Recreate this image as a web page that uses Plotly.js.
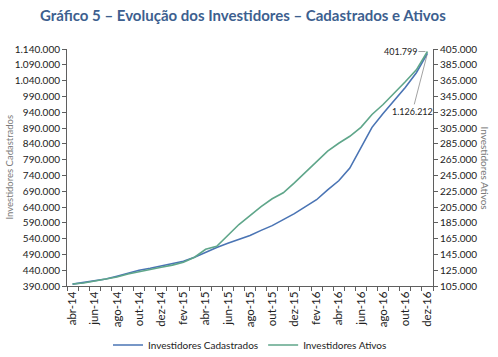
<!DOCTYPE html>
<html>
<head>
<meta charset="utf-8">
<script src="https://cdn.plot.ly/plotly-3.0.1.min.js"></script>
<style>
  html, body { margin: 0; padding: 0; background: #fff; }
  #chart { width: 498px; height: 357px; }
</style>
</head>
<body>
<div id="chart"></div>
<script>
// Months (abr-14 .. dez-16)
const months = ["abr-14","mai-14","jun-14","jul-14","ago-14","set-14","out-14","nov-14","dez-14",
  "jan-15","fev-15","mar-15","abr-15","mai-15","jun-15","jul-15","ago-15","set-15","out-15","nov-15","dez-15",
  "jan-16","fev-16","mar-16","abr-16","mai-16","jun-16","jul-16","ago-16","set-16","out-16","nov-16","dez-16"];

// Investidores Cadastrados (left axis)
const cadastrados = [396000, 401000, 406000, 412000, 421000, 431000, 440000, 446000, 453000,
  459000, 468000, 481000, 497000, 512000, 525000, 537000, 550000, 566000, 581000, 600000, 619000,
  641000, 663000, 694000, 723000, 763000, 829000, 892000, 936000, 977000, 1018000, 1065000, 1126212];

// Investidores Ativos (right axis)
const ativos = [107500, 108800, 111300, 113800, 116300, 120100, 123200, 126300, 128800,
  131400, 135100, 141400, 151400, 155200, 169000, 182800, 194100, 205400, 215400, 223000, 235500,
  249300, 261900, 275700, 285700, 294500, 305800, 322100, 334700, 348500, 363500, 378600, 401799];

const tickMonths = months.filter((m, i) => i % 2 === 0);

const idx = months.map((m, i) => i);
const tickIdx = idx.filter(i => i % 2 === 0);

function fmt(v) { return String(Math.round(v)).replace(/\B(?=(\d{3})+(?!\d))/g, "."); }

const blue = "#4a74b4";
const green = "#5fa68a";
const axisColor = "#5f5f5f";
const txt = "#222222";
const baseFont = "Lato, 'Open Sans', sans-serif";

const traces = [
  { x: idx, y: cadastrados, type: "scatter", mode: "lines", name: "Investidores Cadastrados",
    line: { color: blue, width: 1.6 }, yaxis: "y" },
  { x: idx, y: ativos, type: "scatter", mode: "lines", name: "Investidores Ativos",
    line: { color: green, width: 1.6 }, yaxis: "y2" }
];

const n = months.length;
const layout = {
  width: 498, height: 357,
  margin: { l: 67, r: 65, t: 49, b: 71, autoexpand: false },
  paper_bgcolor: "#fff", plot_bgcolor: "#fff",
  separators: ",.",
  font: { family: baseFont, size: 10, color: txt },
  showlegend: true,
  title: {
    text: "Gráfico 5 – Evolução dos Investidores – Cadastrados e Ativos",
    font: { family: baseFont, size: 15, color: "#3d5f8f", weight: "bold" },
    x: 40/498, xanchor: "left", xref: "container",
    y: 1 - 16/357, yanchor: "middle", yref: "container"
  },
  xaxis: {
    domain: [0, 1],
    range: [-0.5, n - 0.5],
    tickmode: "array", tickvals: tickIdx, ticktext: tickMonths,
    tickangle: -90,
    ticks: "",
    minor: { ticks: "outside", tick0: -0.5, dtick: 1, ticklen: 4, tickcolor: axisColor, tickwidth: 1, showgrid: false },
    showline: true, linecolor: axisColor, linewidth: 1,
    showgrid: false, zeroline: false,
    tickfont: { family: baseFont, size: 11.5, color: txt },
    automargin: false
  },
  yaxis: {
    range: [390000, 1140000], tick0: 390000, dtick: 50000,
    tickformat: ",.0f",
    ticks: "outside", ticklen: 4, tickcolor: axisColor,
    showline: true, linecolor: axisColor, linewidth: 1,
    showgrid: false, zeroline: false,
    tickfont: { family: baseFont, size: 10, color: txt },
    automargin: false
  },
  yaxis2: {
    overlaying: "y", side: "right",
    range: [105000, 405000], tick0: 105000, dtick: 20000,
    tickformat: ",.0f",
    ticks: "outside", ticklen: 4, tickcolor: axisColor,
    showline: true, linecolor: axisColor, linewidth: 1,
    showgrid: false, zeroline: false,
    tickfont: { family: baseFont, size: 10, color: txt },
    automargin: false
  },
  legend: {
    orientation: "h", x: 0.5, xanchor: "center",
    y: -0.249, yanchor: "middle",
    font: { family: baseFont, size: 10, color: txt },
    itemwidth: 30, tracegroupgap: 0
  },
  annotations: [
    { text: "Investidores Cadastrados", xref: "paper", yref: "paper", x: -58/366, y: 0.5,
      xanchor: "center", yanchor: "middle", textangle: -90, showarrow: false,
      font: { family: baseFont, size: 9.5, color: "#7a7a7a" } },
    { text: "Investidores Ativos", xref: "paper", yref: "paper", x: 1 + 52/366, y: 0.5,
      xanchor: "center", yanchor: "middle", textangle: 90, showarrow: false,
      font: { family: baseFont, size: 10, color: "#7a7a7a" } },
    { text: fmt(ativos[n-1]), x: n - 1, y: ativos[n-1], xref: "x", yref: "y2",
      showarrow: true, arrowhead: 0, arrowwidth: 0.8, arrowcolor: "#8a8a8a",
      ax: -27, ay: 0, standoff: 2,
      font: { family: baseFont, size: 9, color: txt } },
    { text: fmt(cadastrados[n-1]), x: n - 1, y: cadastrados[n-1], xref: "x", yref: "y",
      showarrow: true, arrowhead: 0, arrowwidth: 0.8, arrowcolor: "#8a8a8a",
      ax: -15, ay: 58, standoff: 2,
      font: { family: baseFont, size: 9, color: txt } }
  ]
};

Plotly.newPlot("chart", traces, layout, { displayModeBar: false, staticPlot: true });
</script>
</body>
</html>
